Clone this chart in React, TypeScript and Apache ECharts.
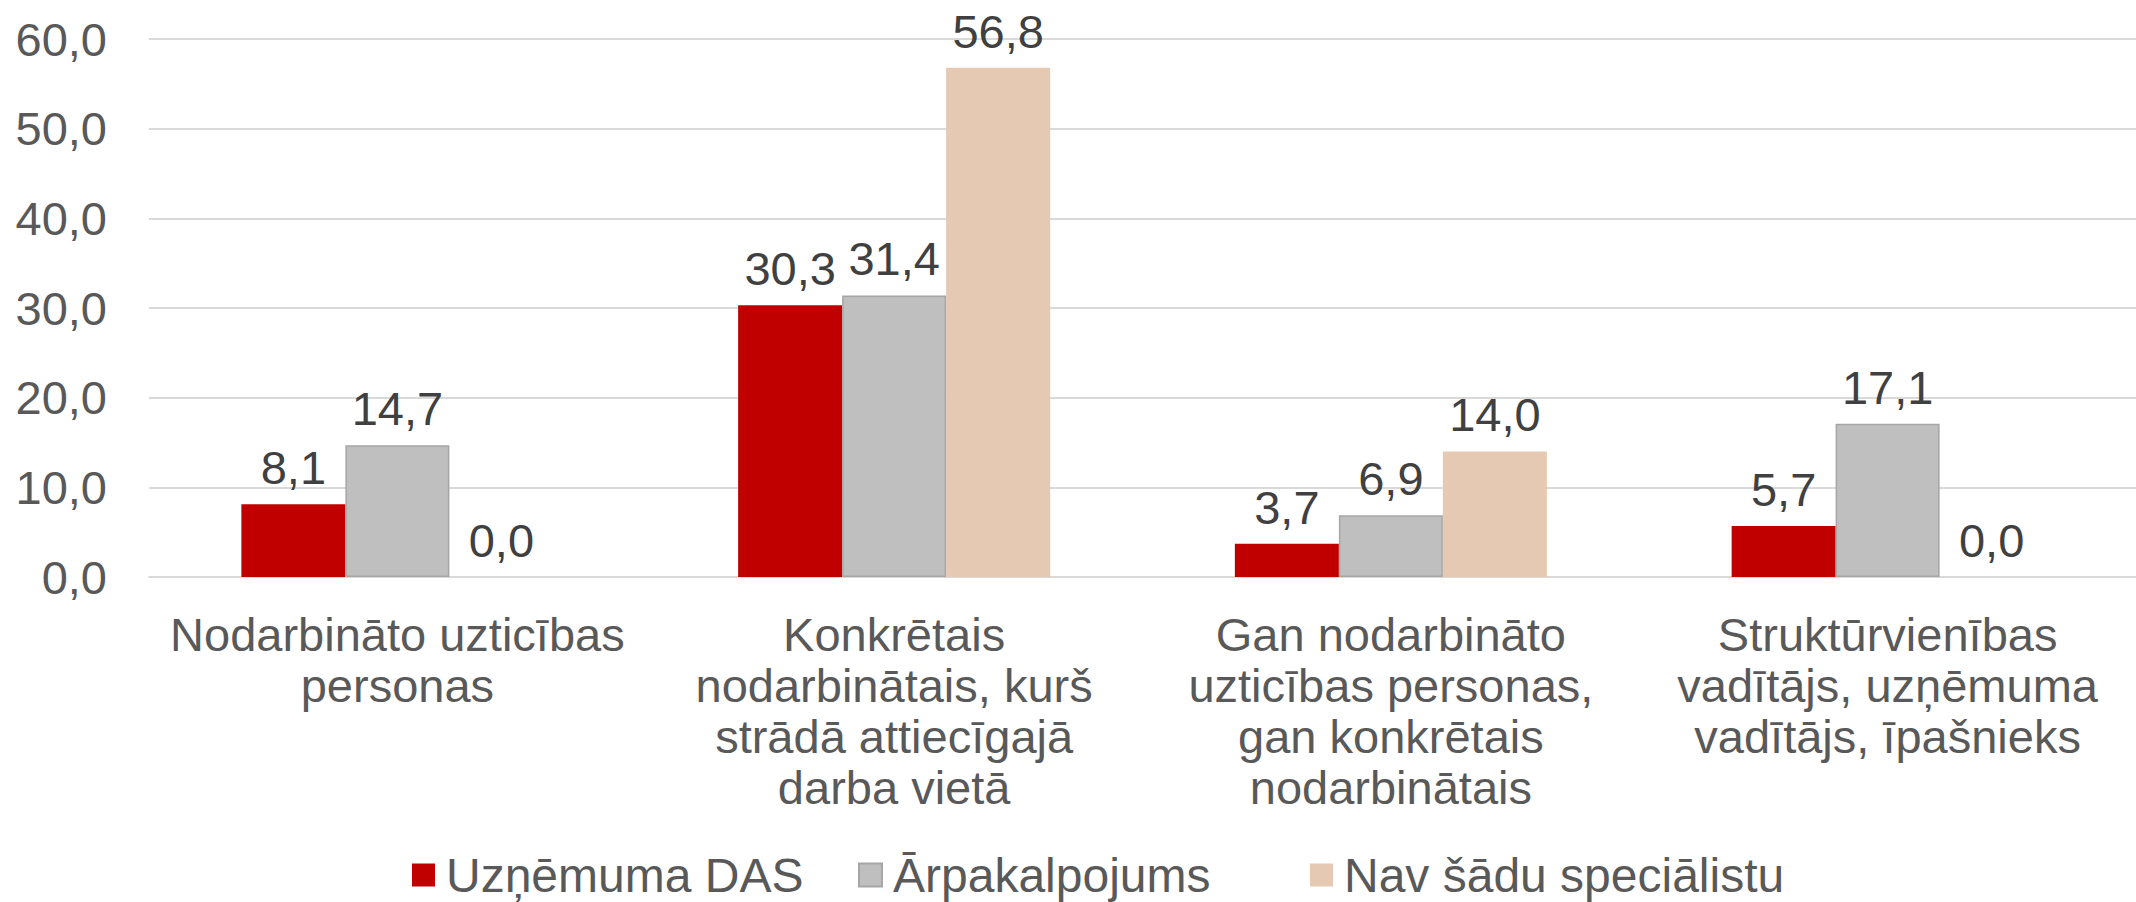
import React, { useEffect, useRef } from "react";
import * as echarts from "echarts";

const categories = [
  "Nodarbināto uzticības\npersonas",
  "Konkrētais\nnodarbinātais, kurš\nstrādā attiecīgajā\ndarba vietā",
  "Gan nodarbināto\nuzticības personas,\ngan konkrētais\nnodarbinātais",
  "Struktūrvienības\nvadītājs, uzņēmuma\nvadītājs, īpašnieks",
];
const seriesNames = ["Uzņēmuma DAS", "Ārpakalpojums", "Nav šādu speciālistu"];
const uznemumaDAS = [8.1, 30.3, 3.7, 5.7];
const arpakalpojums = [14.7, 31.4, 6.9, 17.1];
const navSpecialistu = [0.0, 56.8, 14.0, 0.0];
const yTicks = { min: 0, max: 60, interval: 10 };

const FONT = "'Liberation Sans', Arial, sans-serif";
const fmt = (v: number) => v.toFixed(1).replace(".", ",");

export default function App() {
  const ref = useRef<HTMLDivElement>(null);
  useEffect(() => {
    if (!ref.current) return;
    const chart = echarts.init(ref.current, undefined, { renderer: "svg" });
    const label = {
      show: true,
      position: "top" as const,
      distance: 13,
      color: "#404040",
      fontSize: 47,
      fontFamily: FONT,
      formatter: (p: any) => fmt(p.value),
    };
    const colors = ["#C00000", "#BFBFBF", "#E5C9B3"];
    const data = [uznemumaDAS, arpakalpojums, navSpecialistu];
    const legendLefts = [407, 853, 1305];
    chart.setOption({
      animation: false,
      backgroundColor: "#ffffff",
      grid: { left: 149, top: 39, width: 1997, height: 538, containLabel: false },
      legend: seriesNames.map((name, i) => ({
        show: true,
        left: legendLefts[i],
        top: 846,
        itemWidth: 23,
        itemHeight: 23,
        icon: "rect",
        data: [name],
        textStyle: {
          color: "#595959",
          fontSize: 48,
          fontFamily: FONT,
          padding: [0, 0, 0, 6],
        },
      })),
      xAxis: {
        type: "category",
        data: categories,
        axisLine: { show: true, lineStyle: { color: "#D9D9D9", width: 2 } },
        axisTick: { show: false },
        axisLabel: {
          color: "#595959",
          fontSize: 47,
          fontFamily: FONT,
          lineHeight: 51,
          margin: 32,
          interval: 0,
          align: "center",
        },
      },
      yAxis: {
        type: "value",
        min: yTicks.min,
        max: yTicks.max,
        interval: yTicks.interval,
        axisLine: { show: false },
        axisTick: { show: false },
        splitLine: { show: true, lineStyle: { color: "#D9D9D9", width: 2 } },
        axisLabel: {
          color: "#595959",
          fontSize: 47,
          fontFamily: FONT,
          margin: 42,
          formatter: (v: number) => fmt(v),
        },
      },
      series: seriesNames.map((name, i) => ({
        name,
        type: "bar",
        data: data[i],
        barWidth: 104,
        barGap: "0%",
        itemStyle: {
          color: colors[i],
          borderColor: i === 1 ? "#A6A6A6" : colors[i],
          borderWidth: i === 1 ? 1.5 : 0,
        },
        label,
      })),
    });
    return () => chart.dispose();
  }, []);
  return (
    <div
      ref={ref}
      style={{ position: "fixed", left: 0, top: 0, width: 2136, height: 902, background: "#fff" }}
    />
  );
}
